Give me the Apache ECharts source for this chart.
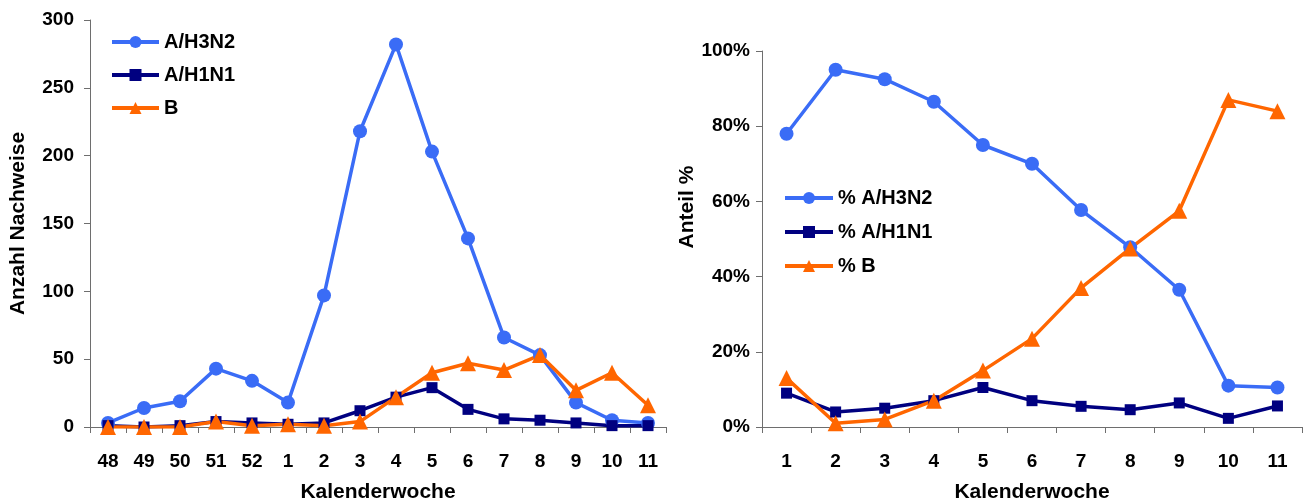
<!DOCTYPE html>
<html>
<head>
<meta charset="utf-8">
<script src="https://cdn.jsdelivr.net/npm/echarts@6/dist/echarts.min.js"></script>
<style>
html,body{margin:0;padding:0;background:#fff;}
#c{width:1304px;height:504px;}
</style>
</head>
<body>
<div id="c"></div>
<script>
// ---- data ----
const weeksLeft = ['48','49','50','51','52','1','2','3','4','5','6','7','8','9','10','11'];
const countH3N2 = [3, 14, 19, 43, 34, 18, 97, 218, 282, 203, 139, 66, 53, 18, 5, 3];
const countH1N1 = [1, 0, 1, 4, 3, 2, 3, 12, 22, 29, 13, 6, 5, 3, 1, 1];
const countB    = [0, 0, 0, 4, 1, 2, 1, 4, 22, 40, 47, 42, 53, 27, 40, 16];

const weeksRight = ['1','2','3','4','5','6','7','8','9','10','11'];
const pctH3N2 = [78, 95, 92.5, 86.5, 75, 70, 57.7, 47.8, 36.5, 11, 10.5];
const pctH1N1 = [9, 4, 5, 7, 10.5, 7, 5.5, 4.6, 6.4, 2.3, 5.6];
const pctB    = [13, 1, 2, 7, 15, 23.5, 37, 47.5, 57.5, 87, 84];

const namesLeft = ['A/H3N2', 'A/H1N1', 'B'];
const namesRight = ['% A/H3N2', '% A/H1N1', '% B'];

// ---- styles ----
const C_BLUE = '#3a6cf6', C_NAVY = '#000080', C_ORANGE = '#ff6600';
const FONT = 'Liberation Sans, Arial, sans-serif';
const axisLine = {show: true, lineStyle: {color: '#6e6e6e', width: 1}};
const axisTick = {show: true, length: 6, lineStyle: {color: '#6e6e6e', width: 1}};
const lblStyle = {color: '#000', fontFamily: FONT, fontWeight: 'bold', fontSize: 19};
const nameStyle = {color: '#000', fontFamily: FONT, fontWeight: 'bold', fontSize: 21};
const legText = {color: '#000', fontFamily: FONT, fontWeight: 'bold', fontSize: 20};

function mkSeries(name, data, color, symbol, size, xi) {
  return {
    name: name, type: 'line', data: data, xAxisIndex: xi, yAxisIndex: xi,
    symbol: symbol, symbolSize: size, showAllSymbol: true,
    lineStyle: {color: color, width: 3.5},
    itemStyle: {color: color},
    emphasis: {disabled: true},
    animation: false
  };
}

const chart = echarts.init(document.getElementById('c'));
chart.setOption({
  animation: false,
  backgroundColor: '#fff',
  grid: [
    {left: 90, right: 1304 - 666, top: 20, bottom: 77, containLabel: false, outerBoundsMode: 'none'},
    {left: 762, right: 2, top: 51, bottom: 77, containLabel: false, outerBoundsMode: 'none'}
  ],
  legend: [
    {
      data: namesLeft, orient: 'vertical', left: 105, top: 27,
      itemWidth: 47, itemHeight: 15, itemGap: 13, textStyle: legText,
      lineStyle: {width: 4}, selectedMode: false
    },
    {
      data: namesRight, orient: 'vertical', left: 778, top: 183,
      itemWidth: 48, itemHeight: 15, itemGap: 14, textStyle: legText,
      lineStyle: {width: 4}, selectedMode: false
    }
  ],
  xAxis: [
    {
      type: 'category', gridIndex: 0, data: weeksLeft, boundaryGap: true,
      axisLine: axisLine, axisTick: axisTick, axisLabel: Object.assign({margin: 25, interval: 0}, lblStyle),
      name: 'Kalenderwoche', nameLocation: 'middle', nameGap: 55, nameTextStyle: nameStyle
    },
    {
      type: 'category', gridIndex: 1, data: weeksRight, boundaryGap: true,
      axisLine: axisLine, axisTick: axisTick, axisLabel: Object.assign({margin: 25, interval: 0}, lblStyle),
      name: 'Kalenderwoche', nameLocation: 'middle', nameGap: 55, nameTextStyle: nameStyle
    }
  ],
  yAxis: [
    {
      type: 'value', gridIndex: 0, min: 0, max: 300, interval: 50,
      axisLine: axisLine, axisTick: axisTick, splitLine: {show: false},
      axisLabel: Object.assign({margin: 16}, lblStyle),
      name: 'Anzahl Nachweise', nameLocation: 'middle', nameGap: 61, nameTextStyle: nameStyle
    },
    {
      type: 'value', gridIndex: 1, min: 0, max: 100, interval: 20,
      axisLine: axisLine, axisTick: axisTick, splitLine: {show: false},
      axisLabel: Object.assign({margin: 12, formatter: '{value}%'}, lblStyle),
      name: 'Anteil %', nameLocation: 'middle', nameGap: 61,
      nameTextStyle: Object.assign({padding: [0, 0, 0, 64]}, nameStyle)
    }
  ],
  series: [
    mkSeries(namesLeft[0], countH3N2, C_BLUE, 'circle', 14, 0),
    mkSeries(namesLeft[1], countH1N1, C_NAVY, 'rect', 11, 0),
    mkSeries(namesLeft[2], countB, C_ORANGE, 'triangle', 16, 0),
    mkSeries(namesRight[0], pctH3N2, C_BLUE, 'circle', 14, 1),
    mkSeries(namesRight[1], pctH1N1, C_NAVY, 'rect', 11, 1),
    mkSeries(namesRight[2], pctB, C_ORANGE, 'triangle', 16, 1)
  ]
});
</script>
</body>
</html>
